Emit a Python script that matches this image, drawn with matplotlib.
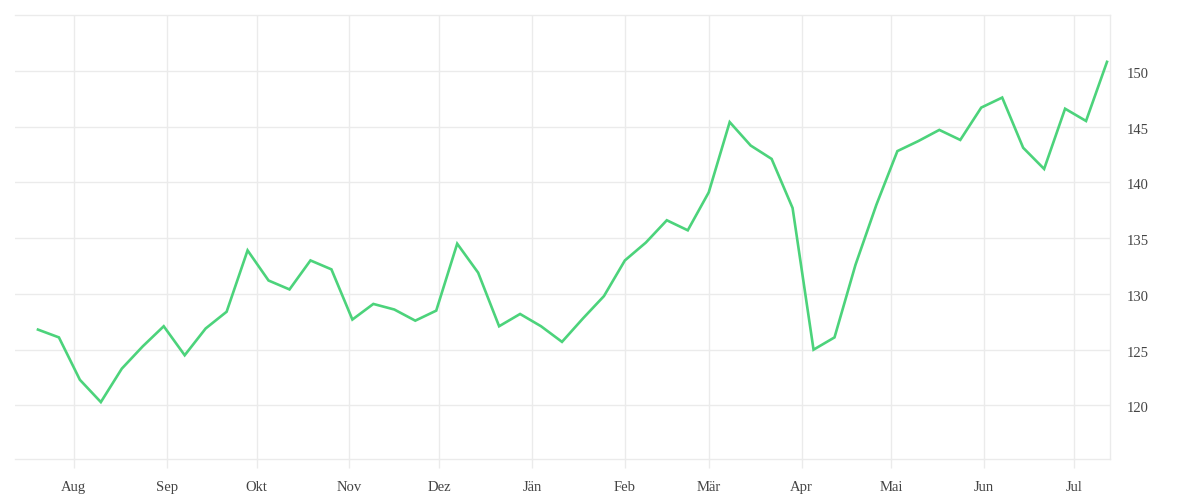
import pandas as pd
import matplotlib.pyplot as plt
import matplotlib.dates as mdates
import matplotlib.transforms as mtransforms

# weekly values, Jul 2022 - Jul 2023
dates = pd.date_range('2022-07-20', periods=52, freq='7D')
values = [126.8, 126.1, 122.3, 120.3, 123.3, 125.3, 127.1, 124.5, 126.9, 128.4,
          133.9, 131.2, 130.4, 133.0, 132.2, 127.7, 129.1, 128.6, 127.6, 128.5,
          134.5, 131.9, 127.1, 128.2, 127.1, 125.7, 127.8, 129.8, 133.0, 134.6,
          136.6, 135.7, 139.1, 145.4, 143.3, 142.1, 137.7, 125.0, 126.1, 132.6,
          138.0, 142.8, 143.7, 144.7, 143.8, 146.7, 147.6, 143.1, 141.2, 146.6,
          145.5, 150.8]
month_names = ['Jän', 'Feb', 'Mär', 'Apr', 'Mai', 'Jun',
               'Jul', 'Aug', 'Sep', 'Okt', 'Nov', 'Dez']
y_ticks = [120, 125, 130, 135, 140, 145, 150]

grid_col = '#ebebeb'
text_col = '#444444'
plt.rcParams['font.family'] = ['Liberation Serif', 'DejaVu Serif']

fig = plt.figure(figsize=(12, 5), dpi=100)
ax = fig.add_axes([0.0125, 0.082, 0.9125, 0.888])

ax.plot(dates, values, color='#4cd37b', linewidth=1.9, solid_joinstyle='miter')

ax.set_xlim(pd.Timestamp('2022-07-12 08:00'), pd.Timestamp('2023-07-13'))
ax.set_ylim(115.2, 155.0)

ax.xaxis.set_major_locator(mdates.MonthLocator())
ax.xaxis.set_major_formatter(plt.FuncFormatter(
    lambda v, pos: month_names[mdates.num2date(v).month - 1]))
ax.yaxis.tick_right()
ax.set_yticks(y_ticks)

ax.grid(True, color=grid_col, linewidth=1)
ax.set_axisbelow(True)
for s in ['top', 'bottom', 'right']:
    ax.spines[s].set_color(grid_col)
    ax.spines[s].set_linewidth(1)
ax.spines['left'].set_visible(False)

ax.tick_params(axis='x', length=6.5, color=grid_col, width=1, pad=9,
               labelsize=10.5, labelcolor=text_col)
ax.tick_params(axis='y', length=0, pad=12, labelsize=10.5, labelcolor=text_col)

# nudge y labels a touch below their grid lines
shift = mtransforms.ScaledTranslation(0, -2 / 100, fig.dpi_scale_trans)
for lbl in ax.get_yticklabels():
    lbl.set_transform(lbl.get_transform() + shift)

fig.savefig('out.png', dpi=100, facecolor='white')
